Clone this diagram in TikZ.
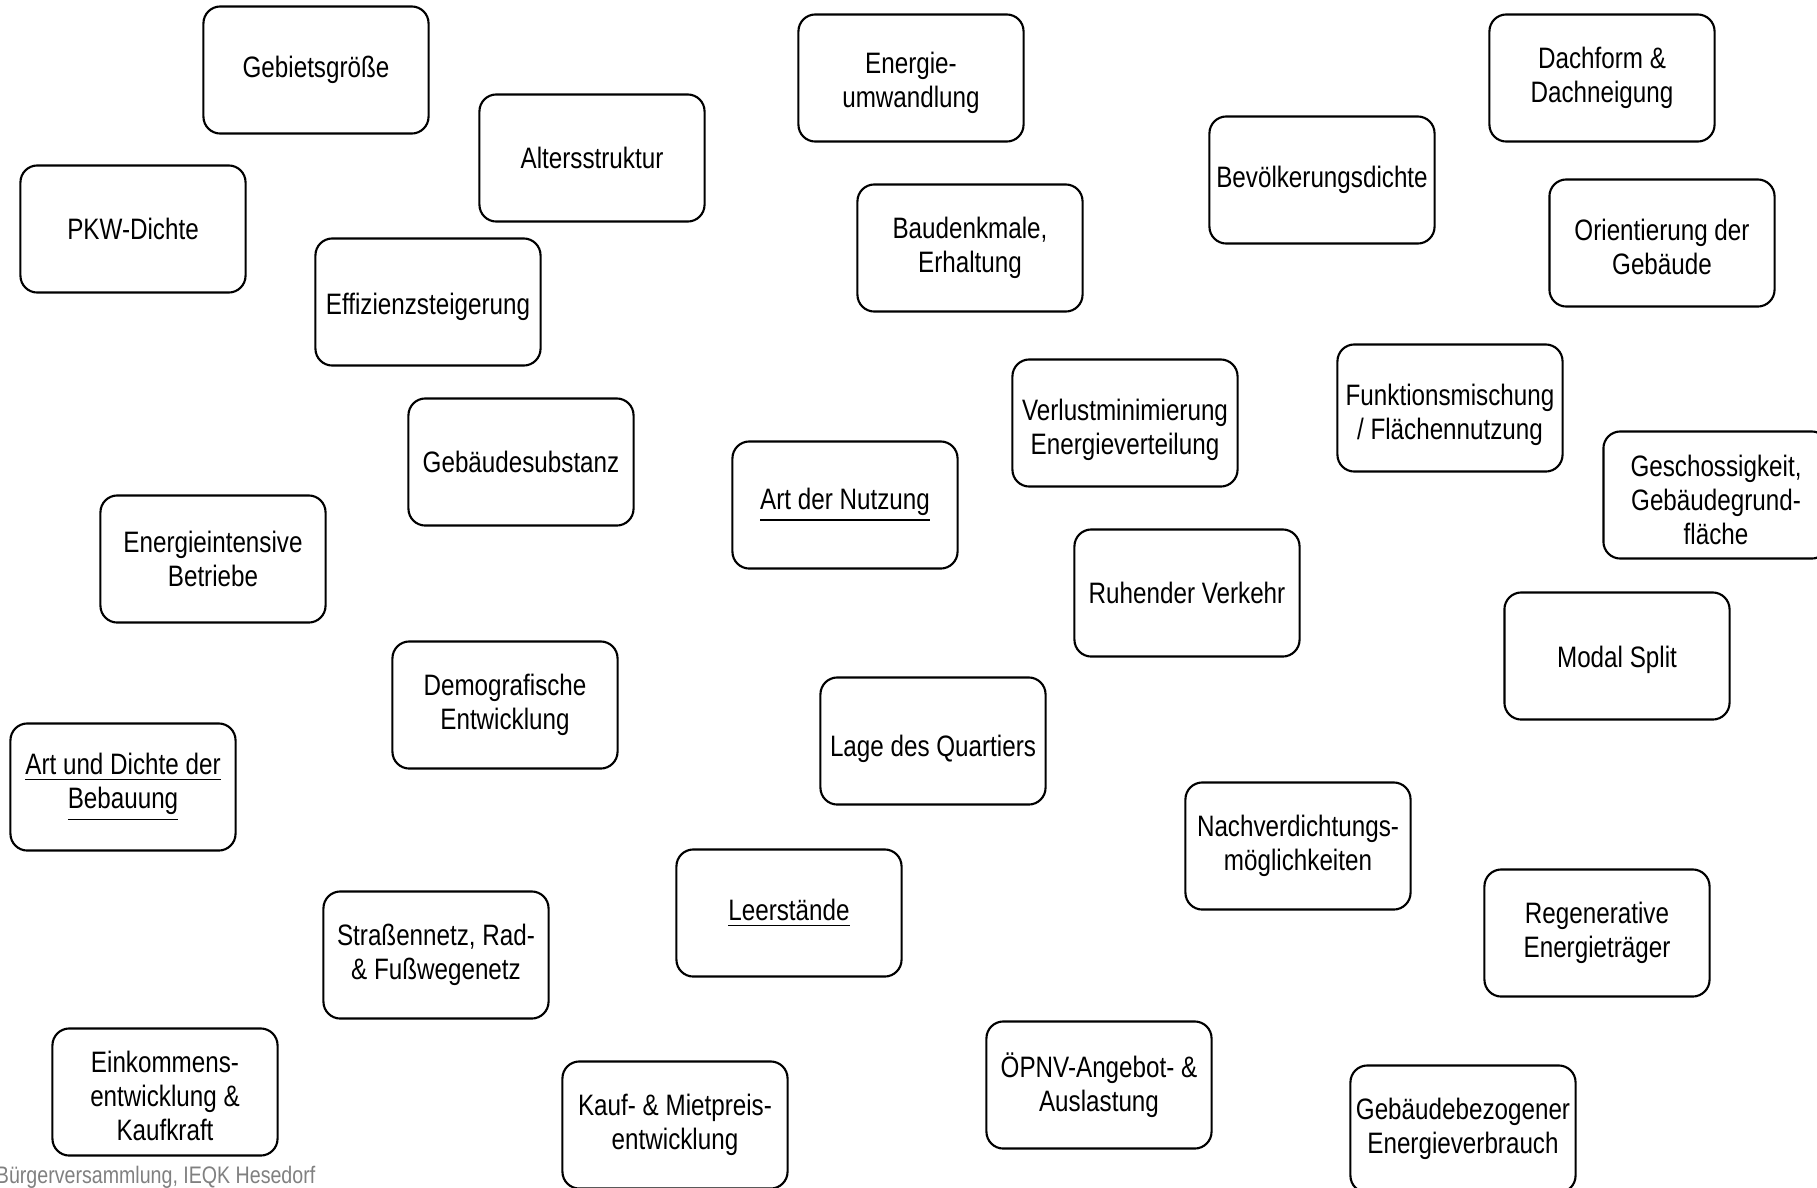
\documentclass[tikz,border=0pt]{standalone}
\usepackage{fontspec}
\setmainfont{Liberation Sans}[FakeStretch=0.82]
\usetikzlibrary{positioning}
% Strut, der die erste Zeile etwas nach unten schiebt
\newcommand\dn[1]{\rule{0pt}{\dimexpr6.2pt+#1\relax}}

\begin{document}
\begin{tikzpicture}[x=0.01cm, y=-0.01cm,
    factor/.style={rectangle, rounded corners=4.8pt, draw, line width=0.6pt,
      minimum width=2.25cm, minimum height=1.27cm, align=center, inner sep=1pt,
      font=\fontsize{8.4}{9.7}\selectfont},
    source/.style={text=black!50, font=\fontsize{6.8}{8}\selectfont, inner sep=0pt}]

  \clip (0,0) rectangle (1817,1187);

  \node[factor] (gebiet)  at (316,70)    {Gebietsgröße};
  \node[factor] (alter)   at (592,158)   {Altersstruktur};
  \node[factor] (pkw)     at (133,229)   {PKW-Dichte};
  \node[factor] (effiz)   at (428,302)   {\dn{2.6pt}Effizienzsteigerung};
  \node[factor] (umwandl) at (911,78)    {\dn{2.6pt}Energie-\\umwandlung};
  \node[factor] (denkmal) at (970,248)   {Baudenkmale,\\Erhaltung};
  \node[factor] (bevoelk) at (1322,180)  {Bevölkerungsdichte};
  \node[factor] (dach)    at (1602,78)   {Dachform \&\\Dachneigung};
  \node[factor] (orient)  at (1662,243)  {\dn{2pt}Orientierung der\\Gebäude};
  \node[factor] (substanz) at (521,462)  {Gebäudesubstanz};
  \node[factor] (nutzung) at (845,505)   {\underline{Art der Nutzung}};
  \node[factor] (verlust) at (1125,423)  {\dn{4pt}Verlustminimierung\\Energieverteilung};
  \node[factor] (mischung) at (1450,408) {\dn{4pt}Funktionsmischung\\/ Flächennutzung};
  \node[factor] (geschoss) at (1716,495) {\dn{2.6pt}Geschossigkeit,\\Gebäudegrund-\\fläche};
  \node[factor] (betriebe) at (213,559)  {Energieintensive\\Betriebe};
  \node[factor] (ruhend)  at (1187,593)  {Ruhender Verkehr};
  \node[factor] (modal)   at (1617,656)  {\dn{2pt}Modal Split};
  \node[factor] (demo)    at (505,705)   {Demografische\\Entwicklung};
  \node[factor] (lage)    at (933,741)   {\dn{4.6pt}Lage des Quartiers};
  \node[factor] (bebauung) at (123,787)  {\underline{Art und Dichte der}\\\underline{Bebauung}};
  \node[factor] (nachverd) at (1298,846) {Nachverdichtungs-\\möglichkeiten};
  \node[factor] (leer)    at (789,913)   {\underline{Leerstände}};
  \node[factor] (regen)   at (1597,933)  {Regenerative\\Energieträger};
  \node[factor] (strasse) at (436,955)   {Straßennetz, Rad-\\\& Fußwegenetz};
  \node[factor] (einkomm) at (165,1092)  {\dn{2pt}Einkommens-\\entwicklung \&\\Kaufkraft};
  \node[factor] (preis)   at (675,1125)  {Kauf- \& Mietpreis-\\entwicklung};
  \node[factor] (oepnv)   at (1099,1085) {ÖPNV-Angebot- \&\\Auslastung};
  \node[factor] (verbrauch) at (1463,1129) {Gebäudebezogener\\Energieverbrauch};

  % Quelle unten links
  \node[source, anchor=east] (quelle) at (316,1177) {Bürgerversammlung, IEQK Hesedorf};
\end{tikzpicture}
\end{document}
